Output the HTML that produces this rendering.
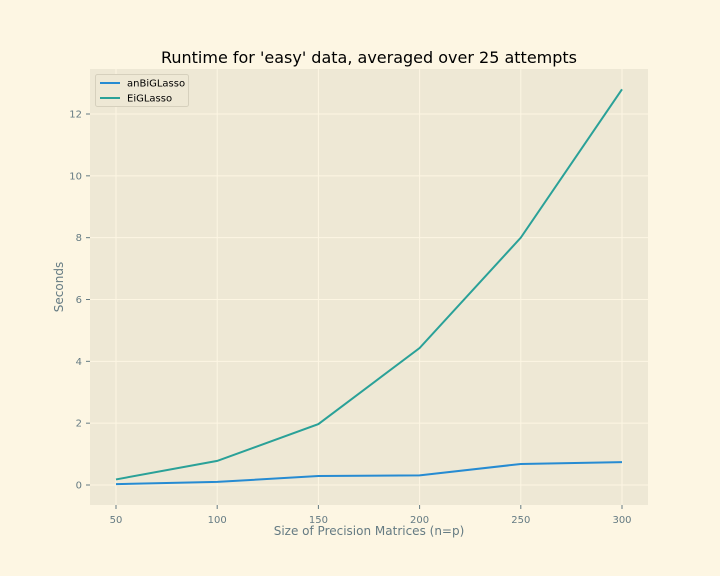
<!DOCTYPE html>
<html><head><meta charset="utf-8"><style>
body{margin:0;background:#fdf6e3;}
svg{display:block;font-family:"DejaVu Sans","Liberation Sans",sans-serif;}
</style></head><body>
<svg id="c" width="720" height="576"></svg>
<script>
const categories=[50,100,150,200,250,300];
const anBiGLasso=[0.03,0.10,0.29,0.31,0.68,0.74];
const EiGLasso=[0.18,0.78,1.97,4.43,8.0,12.8];
const xTicks=[50,100,150,200,250,300];
const yTicks=[0,2,4,6,8,10,12];
const L=90,R=648,T=69,B=505;
const x=v=>116+(v-50)*(622-116)/250;
const y=v=>485-v*(485-114)/12;
const svg=document.getElementById('c');
const NS='http://www.w3.org/2000/svg';
function mk(t,a,txt){const e=document.createElementNS(NS,t);for(const k in a)e.setAttribute(k,a[k]);if(txt!==undefined)e.textContent=txt;svg.appendChild(e);return e;}
let e=mk('rect',{x:L,y:T,width:R-L,height:B-T,fill:'#eee8d5'});


xTicks.forEach(v=>{
 let g=mk('line',{x1:x(v),x2:x(v),y1:T,y2:B,stroke:'#fdf6e3','stroke-width':1});
 
 
 let t=mk('line',{x1:x(v),x2:x(v),y1:B,y2:B+4,stroke:'#657b83'});
 
 
 let l=mk('text',{x:x(v),y:B+18,'text-anchor':'middle','font-size':10,fill:'#657b83'},v);
 
 
});
yTicks.forEach(v=>{
 let g=mk('line',{x1:L,x2:R,y1:y(v),y2:y(v),stroke:'#fdf6e3','stroke-width':1});
 
 
 let t=mk('line',{x1:L-4,x2:L,y1:y(v),y2:y(v),stroke:'#657b83'});
 
 
 let l=mk('text',{x:L-8,y:y(v)+3.5,'text-anchor':'end','font-size':10,fill:'#657b83'},v);
 
 
});
function line(vals,col,name){
 const p=mk('polyline',{points:categories.map((c,i)=>x(c)+','+y(vals[i])).join(' '),fill:'none',stroke:col,'stroke-width':2});
 
 
}
line(anBiGLasso,'#268bd2','anbiglasso-line');
line(EiGLasso,'#2aa198','eiglasso-line');
e=mk('text',{x:369,y:63,'text-anchor':'middle','font-size':16,fill:'#000'},"Runtime for 'easy' data, averaged over 25 attempts");


e=mk('text',{x:369,y:535,'text-anchor':'middle','font-size':12,fill:'#657b83'},'Size of Precision Matrices (n=p)');


e=mk('text',{x:63,y:287,'text-anchor':'middle','font-size':12,fill:'#657b83',transform:'rotate(-90 63 287)'},'Seconds');


e=mk('rect',{x:95.5,y:74.5,width:93,height:32,rx:2,fill:'#eee8d5',stroke:'#d6d0bd'});


[['anBiGLasso','#268bd2',83],['EiGLasso','#2aa198',98]].forEach(([n,c,yy])=>{
 let s=mk('line',{x1:100,x2:120,y1:yy,y2:yy,stroke:c,'stroke-width':2});
 
 
 let t=mk('text',{x:127,y:yy+3.5,'font-size':10,fill:'#000'},n);
 
 
});
</script>
</body></html>
